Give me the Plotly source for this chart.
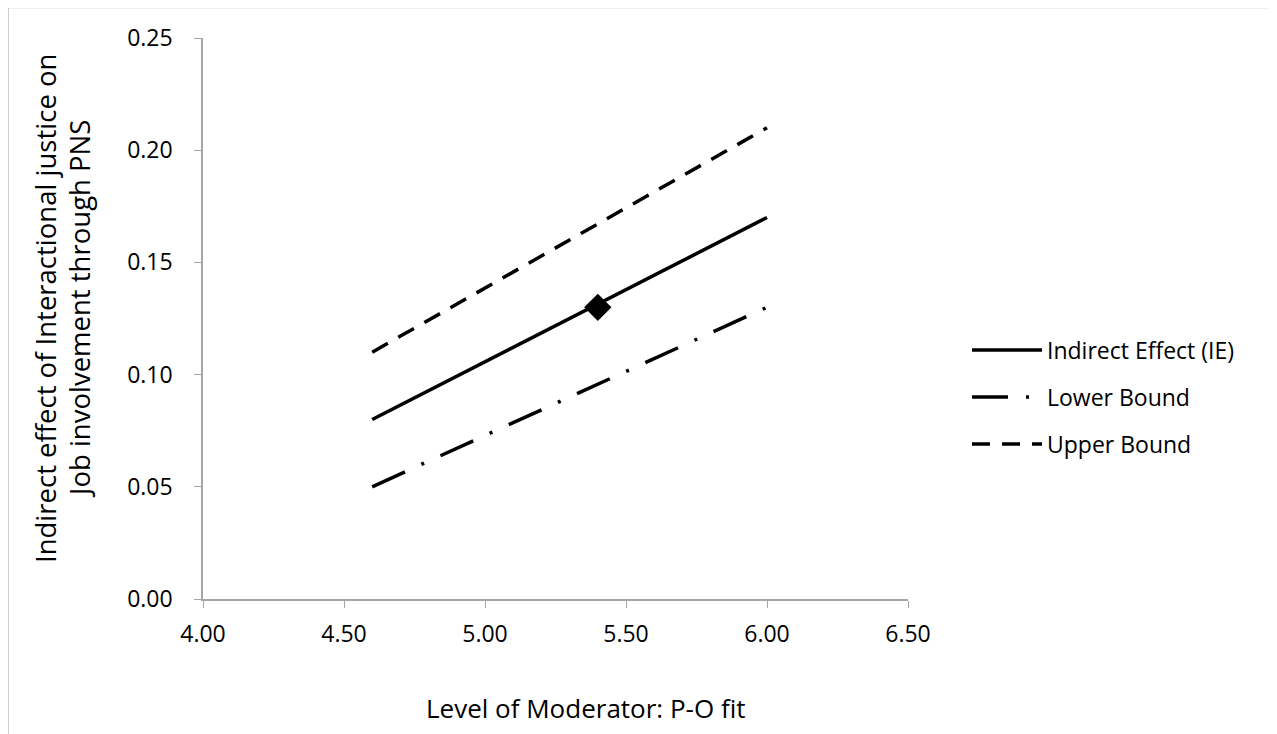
import plotly.graph_objects as go

x_vals = [4.6, 6.0]
ie_vals = [0.08, 0.17]
lower_vals = [0.05, 0.13]
upper_vals = [0.11, 0.21]
point_x = [5.4]
point_y = [0.13]
x_ticks = [4.0, 4.5, 5.0, 5.5, 6.0, 6.5]
y_ticks = [0.0, 0.05, 0.10, 0.15, 0.20, 0.25]
series_names = ["Indirect Effect (IE)", "Lower Bound", "Upper Bound"]
x_title = "Level of Moderator: P-O fit"
y_title_lines = ["Indirect effect of Interactional justice on", "Job involvement through PNS"]

W, H = 1277, 734
OFF = 8  # page body margin
L, R, T, B = 195, 900, 30, 591
FONT = "Open Sans"


def px(xpage):
    return (xpage - OFF - L) / (R - L)


def py(ypage):
    return (B - (ypage - OFF)) / (B - T)


fig = go.Figure()
fig.add_trace(go.Scatter(x=x_vals, y=ie_vals, mode="lines", name=series_names[0],
                         legend="legend",
                         line=dict(color="black", width=3.5)))
fig.add_trace(go.Scatter(x=x_vals, y=lower_vals, mode="lines", name=series_names[1],
                         legend="legend2",
                         line=dict(color="black", width=3.5, dash="36px,18px,3px,18px")))
fig.add_trace(go.Scatter(x=x_vals, y=upper_vals, mode="lines", name=series_names[2],
                         legend="legend3",
                         line=dict(color="black", width=3.5, dash="18px,12px")))
fig.add_trace(go.Scatter(x=point_x, y=point_y, mode="markers", showlegend=False,
                         marker=dict(symbol="diamond", size=21, color="black")))

axis_common = dict(showgrid=False, zeroline=False, showline=True, linecolor="#a6a6a6",
                   linewidth=1.5, ticks="outside", ticklen=7, tickcolor="#a6a6a6",
                   tickwidth=1.2, tickfont=dict(size=23))

leg_common = dict(xanchor="left", yanchor="middle", font=dict(size=23),
                  itemwidth=70, bgcolor="rgba(0,0,0,0)")

fig.update_layout(
    width=W, height=H,
    margin=dict(l=L, r=W - R, t=T, b=H - B, pad=0),
    paper_bgcolor="white", plot_bgcolor="white",
    font=dict(family=FONT, color="black", size=23),
    xaxis=dict(range=[4.0, 6.5], tickvals=x_ticks, ticktext=[f"{v:.2f}" for v in x_ticks],
               ticklabelstandoff=7, **axis_common),
    yaxis=dict(range=[0, 0.25], tickvals=y_ticks, ticktext=[f"{v:.2f}" for v in y_ticks],
               ticklabelstandoff=17, **axis_common),
    legend=dict(x=px(967), y=py(350), **leg_common),
    legend2=dict(x=px(967), y=py(397), **leg_common),
    legend3=dict(x=px(967), y=py(444), **leg_common),
    annotations=[
        dict(text=x_title, xref="paper", yref="paper", x=px(586), y=py(708),
             xanchor="center", yanchor="middle", showarrow=False, font=dict(size=26)),
        dict(text=y_title_lines[0], xref="paper", yref="paper", x=px(45), y=py(309),
             xanchor="center", yanchor="middle", showarrow=False, textangle=-90,
             font=dict(size=27.5)),
        dict(text=y_title_lines[1], xref="paper", yref="paper", x=px(79), y=py(309),
             xanchor="center", yanchor="middle", showarrow=False, textangle=-90,
             font=dict(size=27.5)),
    ],
    shapes=[dict(type="rect", xref="paper", yref="paper",
                 x0=px(8), x1=px(1270), y0=py(760), y1=py(7.5),
                 line=dict(color="#bfbfbf", width=1.5), fillcolor="rgba(0,0,0,0)",
                 layer="below")],
)

fig.write_html("out.html")
